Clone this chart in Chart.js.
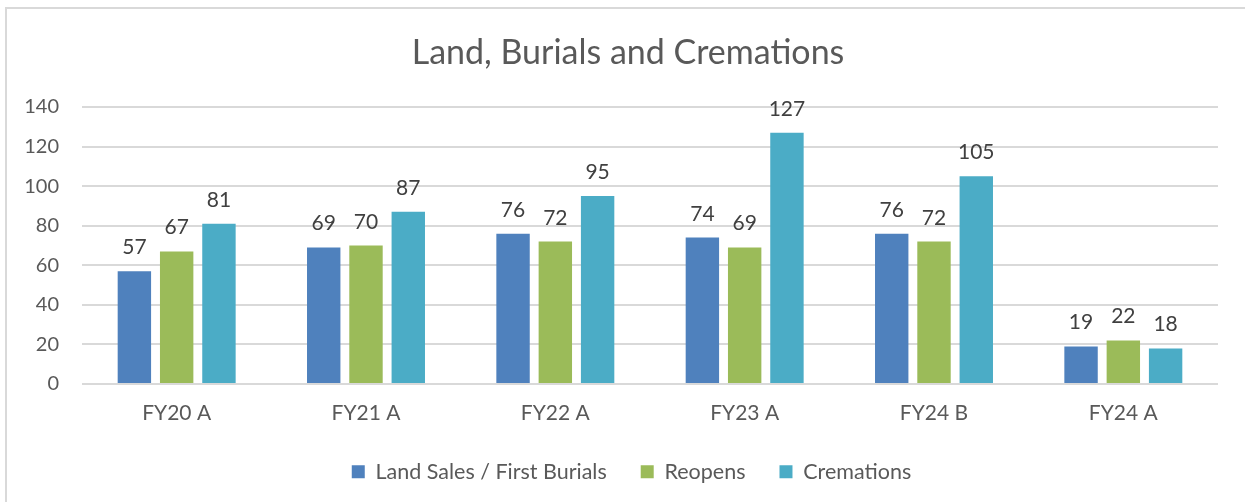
<!DOCTYPE html>
<html>
<head>
<meta charset="utf-8">
<script src="https://cdn.jsdelivr.net/npm/chart.js@4/dist/chart.umd.min.js"></script>
<style>
    html, body { margin: 0; padding: 0; background: #fff; }
    #wrap { position: relative; width: 1245px; height: 502px; overflow: hidden; }
    #frame {
        position: absolute; left: 5px; top: 7px; width: 1400px; height: 600px;
        border-left: 2px solid #d9d9d9; border-top: 2px solid #d9d9d9;
        pointer-events: none;
    }
    canvas { position: absolute; left: 0; top: 0; }
</style>
</head>
<body>
<div id="wrap">
    <canvas id="chart" width="1245" height="502"></canvas>
    <div id="frame"></div>
</div>
<script>
// 資料
const categories = ['FY20 A', 'FY21 A', 'FY22 A', 'FY23 A', 'FY24 B', 'FY24 A'];
const landSales = [57, 69, 76, 74, 76, 19];
const reopens = [67, 70, 72, 69, 72, 22];
const cremations = [81, 87, 95, 127, 105, 18];
const yTicks = [0, 20, 40, 60, 80, 100, 120, 140];

const fontFamily = 'Lato';

// 柱上數值
const barValueLabels = {
    id: 'barValueLabels',
    afterDatasetsDraw(chart) {
        const ctx = chart.ctx;
        ctx.save();
        ctx.font = '21px ' + fontFamily;
        ctx.fillStyle = '#404040';
        ctx.textAlign = 'center';
        ctx.textBaseline = 'alphabetic';
        chart.data.datasets.forEach((ds, i) => {
            const meta = chart.getDatasetMeta(i);
            meta.data.forEach((bar, j) => {
                ctx.fillText(ds.data[j], bar.x, bar.y - 17);
            });
        });
        ctx.restore();
    }
};

// 圖例高度固定，標題/圖例往右置中
const boxTweaks = {
    id: 'boxTweaks',
    afterInit(chart) {
        const legend = chart.legend;
        if (!legend) return;
        const fit = legend.fit;
        legend.fit = function() {
            fit.call(this);
            this.height = 75;
        };
    },
    afterLayout(chart) {
        if (chart.legend) chart.legend.left = 45;
        if (chart.titleBlock) chart.titleBlock.left = 38;
    }
};

new Chart(document.getElementById('chart'), {
    type: 'bar',
    data: {
        labels: categories,
        datasets: [{
            label: 'Land Sales / First Burials',
            data: landSales,
            backgroundColor: '#4f81bd'
        }, {
            label: 'Reopens',
            data: reopens,
            backgroundColor: '#9bbb59'
        }, {
            label: 'Cremations',
            data: cremations,
            backgroundColor: '#4bacc6'
        }]
    },
    options: {
        responsive: false,
        animation: false,
        layout: {
            padding: { left: 0, right: 27, top: 0, bottom: 0 }
        },
        datasets: {
            bar: {
                categoryPercentage: 0.67,
                barPercentage: 0.79
            }
        },
        plugins: {
            title: {
                display: true,
                text: 'Land, Burials and Cremations',
                color: '#595959',
                font: { family: fontFamily, size: 34, weight: 'normal' },
                padding: { top: 32.6, bottom: 33.6 }
            },
            legend: {
                position: 'bottom',
                labels: {
                    color: '#595959',
                    font: { family: fontFamily, size: 21.5 },
                    boxWidth: 13,
                    boxHeight: 13,
                    padding: 34
                }
            },
            tooltip: { enabled: false }
        },
        scales: {
            x: {
                grid: { display: false, drawTicks: false },
                border: { display: false },
                ticks: {
                    color: '#595959',
                    font: { family: fontFamily, size: 21 },
                    padding: 17
                },
                afterFit(scale) {
                    scale.height = 43;
                }
            },
            y: {
                min: 0,
                max: 140,
                afterBuildTicks(scale) {
                    scale.ticks = yTicks.map(v => ({ value: v }));
                },
                grid: {
                    color: '#d9d9d9',
                    lineWidth: 2,
                    drawTicks: false
                },
                border: { display: false },
                ticks: {
                    color: '#595959',
                    font: { family: fontFamily, size: 20 },
                    padding: 23
                },
                afterFit(scale) {
                    scale.width = 82;
                }
            }
        }
    },
    plugins: [barValueLabels, boxTweaks]
});
</script>
</body>
</html>
